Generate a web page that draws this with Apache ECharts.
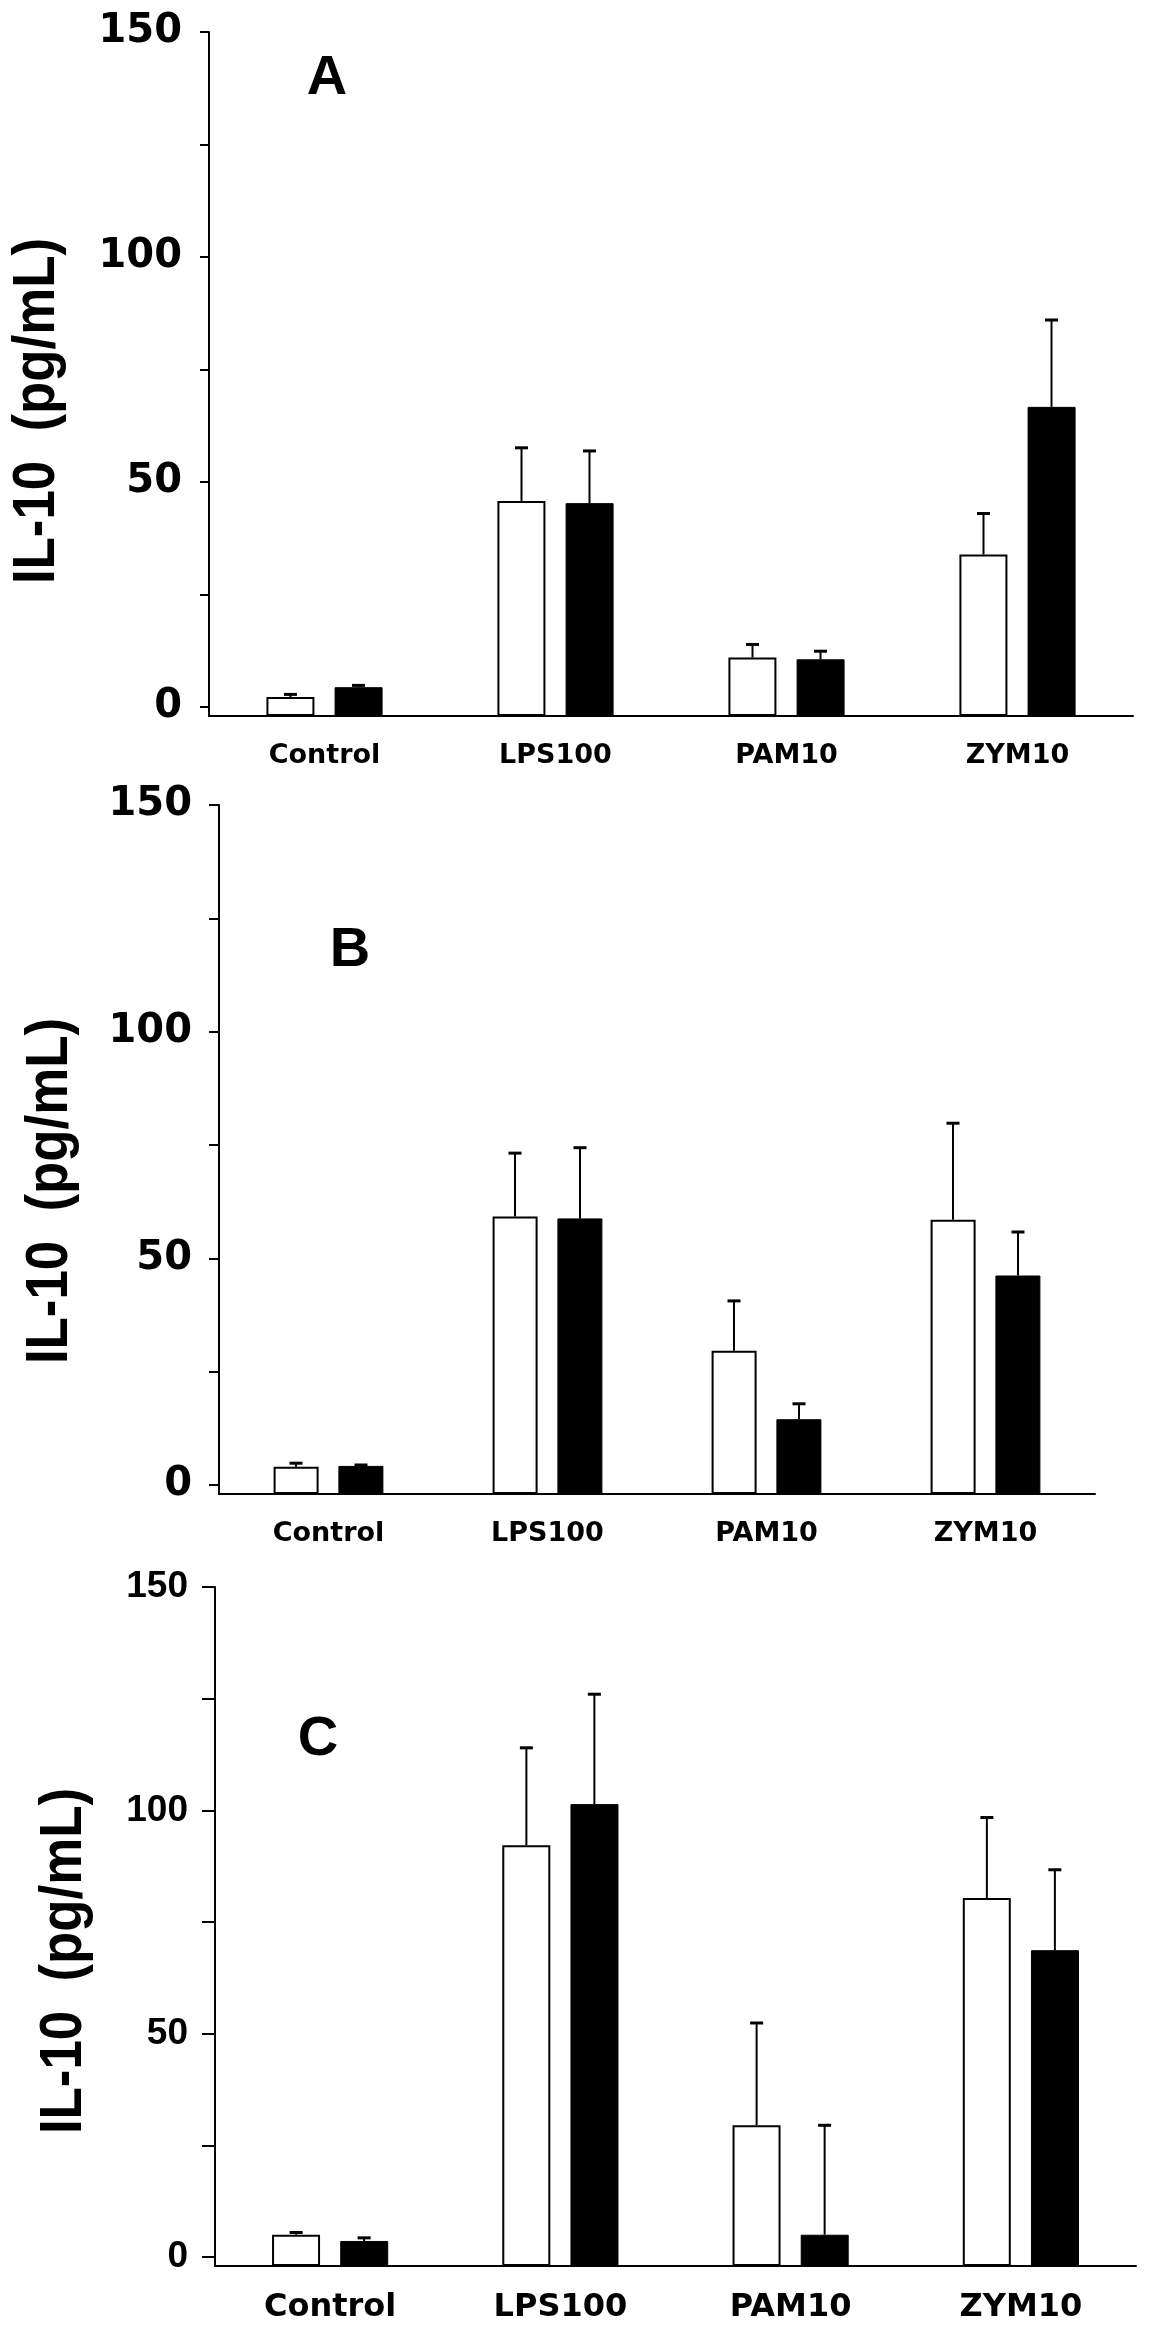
<!DOCTYPE html>
<html>
<head>
<meta charset="utf-8">
<title>IL-10</title>
<script src="https://cdn.jsdelivr.net/npm/echarts@6/dist/echarts.min.js"></script>
<style>
  html, body { margin: 0; padding: 0; background: #fff; }
  #main { width: 1155px; height: 2352px; }
</style>
</head>
<body>
<div id="main"></div>
<script>
var categories = ['Control', 'LPS100', 'PAM10', 'ZYM10'];
var yTickValues = [0, 25, 50, 75, 100, 125, 150];
var yLabelValues = [0, 50, 100, 150];
var yLabelText = 'IL-10  (pg/mL)';

// panel A (open = white bars, filled = black bars, err = upper SEM)
var openA = [2.2, 45.8, 11.0, 33.9];
var openErrA = [0.6, 11.8, 2.9, 9.1];
var filledA = [4.4, 45.3, 10.6, 66.7];
var filledErrA = [0.4, 11.6, 1.8, 19.3];

// panel B
var openB = [4.0, 59.2, 29.6, 58.5];
var openErrB = [0.8, 14.0, 11.0, 21.3];
var filledB = [4.2, 58.8, 14.5, 46.2];
var filledErrB = [0.2, 15.6, 3.4, 9.6];

// panel C
var openC = [5.0, 92.2, 29.5, 80.4];
var openErrC = [0.5, 21.8, 22.9, 18.0];
var filledC = [3.6, 101.4, 5.0, 68.7];
var filledErrC = [0.7, 24.6, 24.5, 18.0];

var panels = [
  { letter: 'A', open: openA, openErr: openErrA, filled: filledA, filledErr: filledErrA,
    grid: { left: 209, top: 32, width: 924, height: 684 },
    barWidth: 48, gap: 20, yTick: 9, yFont: 'DejaVu Sans', yFontSize: 40, yMargin: 27,
    xFontSize: 27, letterPos: [327, 79], yNamePos: [37, 411] },
  { letter: 'B', open: openB, openErr: openErrB, filled: filledB, filledErr: filledErrB,
    grid: { left: 219, top: 805, width: 876, height: 689 },
    barWidth: 45, gap: 20, yTick: 10, yFont: 'DejaVu Sans', yFontSize: 40, yMargin: 27,
    xFontSize: 27, letterPos: [350, 951], yNamePos: [50, 1191] },
  { letter: 'C', open: openC, openErr: openErrC, filled: filledC, filledErr: filledErrC,
    grid: { left: 215, top: 1587, width: 921, height: 679 },
    barWidth: 48, gap: 20, yTick: 13, yFont: 'Liberation Sans', yFontSize: 37, yMargin: 27,
    xFontSize: 32, letterPos: [318, 1740], yNamePos: [64, 1961] }
];

// draws the upward error bar for one bar of the pair
function errorBars(offset, capHalf) {
  return function (params, api) {
    var cat = api.value(0);
    var mean = api.value(1);
    var err = api.value(2);
    var p0 = api.coord([cat, mean]);
    var p1 = api.coord([cat, mean + err]);
    var x = p0[0] + offset;
    return {
      type: 'group',
      children: [
        { type: 'line', shape: { x1: x, y1: p0[1], x2: x, y2: p1[1] },
          style: { stroke: '#000', lineWidth: 2 } },
        { type: 'line', shape: { x1: x - capHalf, y1: p1[1], x2: x + capHalf, y2: p1[1] },
          style: { stroke: '#000', lineWidth: 3 } }
      ]
    };
  };
}

function errData(means, errs) {
  return means.map(function (m, i) { return [i, m, errs[i]]; });
}

var grids = [], xAxes = [], yAxes = [], series = [], graphics = [];

panels.forEach(function (p, k) {
  grids.push(p.grid);
  xAxes.push({
    type: 'category',
    gridIndex: k,
    data: categories,
    axisLine: { onZero: false, lineStyle: { color: '#000', width: 2 } },
    axisTick: { alignWithLabel: true, length: 14, lineStyle: { color: '#000', width: 2 } },
    axisLabel: { color: '#000', fontFamily: 'DejaVu Sans', fontWeight: 'bold',
                 fontSize: p.xFontSize, margin: 26 },
    splitLine: { show: false }
  });
  yAxes.push({
    type: 'value',
    gridIndex: k,
    min: -2,
    max: 150,
    startValue: -2,
    splitLine: { show: false },
    axisLine: { show: true, lineStyle: { color: '#000', width: 2 } },
    axisTick: { show: true, length: p.yTick, customValues: yTickValues,
                lineStyle: { color: '#000', width: 2 } },
    axisLabel: { customValues: yLabelValues, color: '#000', fontFamily: p.yFont,
                 fontWeight: 'bold', fontSize: p.yFontSize, margin: p.yMargin }
  });
  var off = (p.barWidth + p.gap) / 2;
  var gapPct = Math.round(p.gap / p.barWidth * 100) + '%';
  series.push({
    type: 'bar', xAxisIndex: k, yAxisIndex: k, data: p.open,
    barWidth: p.barWidth, barGap: gapPct,
    itemStyle: { color: '#fff', borderColor: '#000', borderWidth: 2 }
  });
  series.push({
    type: 'bar', xAxisIndex: k, yAxisIndex: k, data: p.filled,
    barWidth: p.barWidth, barGap: gapPct,
    itemStyle: { color: '#000', borderColor: '#000', borderWidth: 1 }
  });
  series.push({
    type: 'custom', xAxisIndex: k, yAxisIndex: k, z: 5,
    renderItem: errorBars(-off, 6.5), data: errData(p.open, p.openErr),
    encode: { x: 0, y: 1 }
  });
  series.push({
    type: 'custom', xAxisIndex: k, yAxisIndex: k, z: 5,
    renderItem: errorBars(off, 6.5), data: errData(p.filled, p.filledErr),
    encode: { x: 0, y: 1 }
  });
  graphics.push({
    type: 'text', x: p.letterPos[0], y: p.letterPos[1],
    style: { text: p.letter, fill: '#000', font: 'bold 56px "Liberation Sans"',
             textAlign: 'center', textVerticalAlign: 'middle' }
  });
  graphics.push({
    type: 'text', x: p.yNamePos[0], y: p.yNamePos[1], rotation: Math.PI / 2, scaleX: 0.88,
    style: { text: yLabelText, fill: '#000', font: 'bold 60px "Liberation Sans"',
             textAlign: 'center', textVerticalAlign: 'middle' }
  });
});

var myChart = echarts.init(document.getElementById('main'), null, { renderer: 'canvas' });
myChart.setOption({
  backgroundColor: '#fff',
  animation: false,
  grid: grids,
  xAxis: xAxes,
  yAxis: yAxes,
  series: series,
  graphic: graphics
});
</script>
</body>
</html>
